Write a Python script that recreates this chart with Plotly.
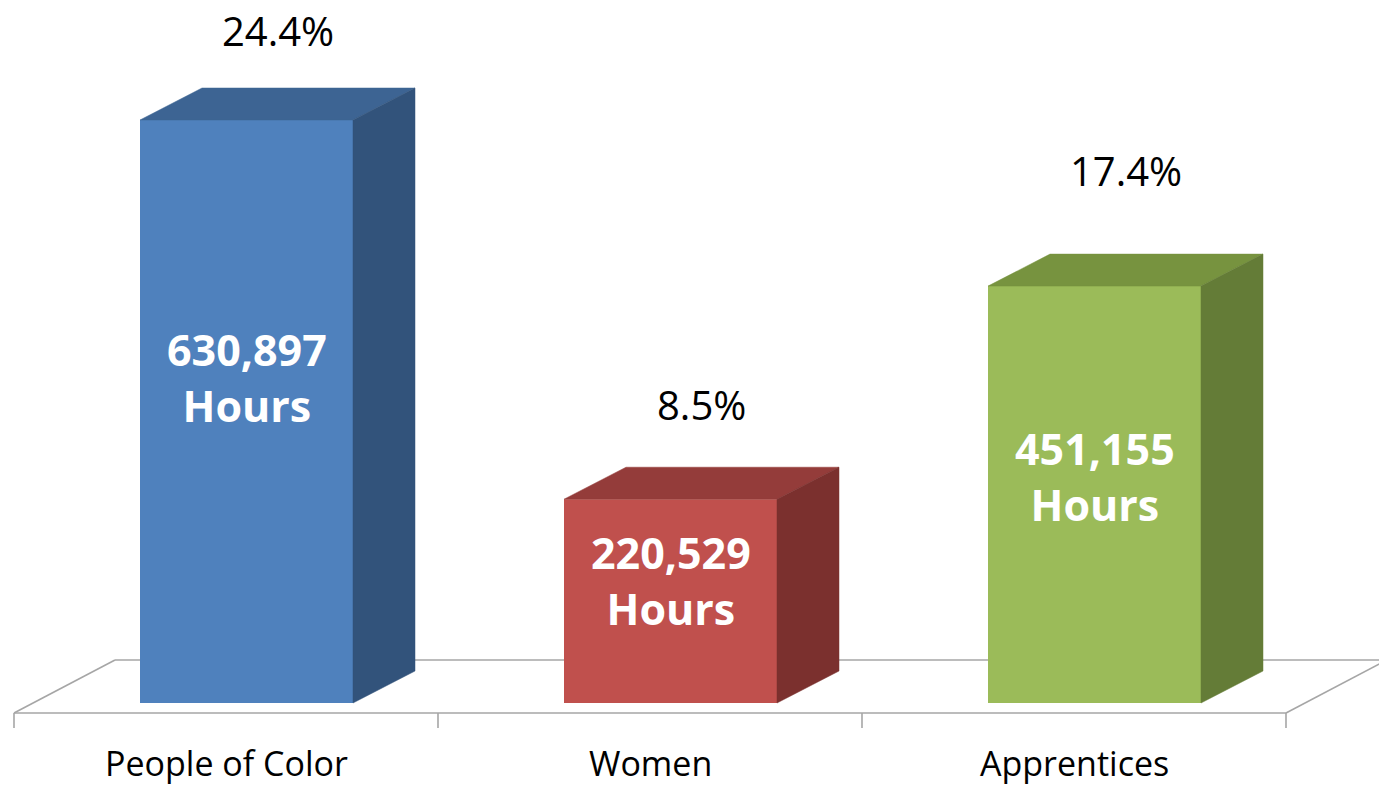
import plotly.graph_objects as go

# ---------------- data ----------------
categories = ["People of Color", "Women", "Apprentices"]
hours = [630897, 220529, 451155]
shares = ["24.4%", "8.5%", "17.4%"]
unit_label = "Hours"

# ---------------- styles ----------------
front_colors = ["#4F81BD", "#C0504D", "#9BBB59"]
top_colors = ["#3D6493", "#943C3A", "#77933F"]
side_colors = ["#32537B", "#7B302E", "#647C37"]
floor_color = "#A6A6A6"
FONT = "Open Sans"

# ---------------- layout geometry (pixels) ----------------
W, H = 1379, 788
SLOT_PX = 424.0      # width of one category slot
LEFT_PX = 14.0       # pixel of the first slot's left boundary
BASE_PX = 703.0      # pixel row of the bars' front base
TOP_PX = 120.0       # pixel row of the tallest bar's front top
K = (BASE_PX - TOP_PX) / max(hours)  # pixels per hour


def dx(px):
    return px / SLOT_PX


def dy(px):
    return px / K


x_min = -0.5 - dx(LEFT_PX)
x_max = x_min + dx(W)
y_min = -dy(H - BASE_PX)
y_max = dy(BASE_PX)

BAR_OFF = dx(-86)
BAR_W = dx(213)
DEPTH_X = dx(62)
DEPTH_Y = dy(32)
FLOOR_FRONT = dy(-10)
FLOOR_BACK = dy(43)
FLOOR_DX = dx(101)
TICK_LEN = dy(15)
CAT_LABEL_PX = 763

pct_gap_px = [58, 63, 84]        # gap from bar top-back edge to % label centre
block_off_px = [-34, -21, -18]   # inner label block centre vs front-face centre

xs_idx = list(range(len(categories)))

fig = go.Figure()

# front faces
fig.add_trace(go.Bar(
    x=xs_idx, y=hours, width=BAR_W, offset=BAR_OFF,
    marker=dict(color=front_colors, line=dict(width=0)),
    hoverinfo="skip",
))

# top and side faces
for i, h in enumerate(hours):
    x0 = i + BAR_OFF
    x1 = x0 + BAR_W
    fig.add_trace(go.Scatter(
        x=[x0, x1, x1 + DEPTH_X, x0 + DEPTH_X, x0],
        y=[h, h, h + DEPTH_Y, h + DEPTH_Y, h],
        mode="lines", fill="toself", fillcolor=top_colors[i],
        line=dict(width=0.5, color=top_colors[i]), hoverinfo="skip",
    ))
    fig.add_trace(go.Scatter(
        x=[x1, x1 + DEPTH_X, x1 + DEPTH_X, x1, x1],
        y=[0, DEPTH_Y, h + DEPTH_Y, h, 0],
        mode="lines", fill="toself", fillcolor=side_colors[i],
        line=dict(width=0.5, color=side_colors[i]), hoverinfo="skip",
    ))

# floor
n = len(categories)
left_b, right_b = -0.5, n - 0.5
shapes = []
seg = [
    (left_b, FLOOR_FRONT, right_b, FLOOR_FRONT),
    (left_b, FLOOR_FRONT, left_b + FLOOR_DX, FLOOR_BACK),
    (left_b + FLOOR_DX, FLOOR_BACK, right_b + FLOOR_DX, FLOOR_BACK),
    (right_b, FLOOR_FRONT, right_b + FLOOR_DX, FLOOR_BACK),
]
for b in range(n + 1):
    xb = left_b + b
    seg.append((xb, FLOOR_FRONT, xb, FLOOR_FRONT - TICK_LEN))
for (a, b_, c, d) in seg:
    shapes.append(dict(type="line", xref="x", yref="y", x0=a, y0=b_, x1=c, y1=d,
                       line=dict(color=floor_color, width=1.6), layer="below"))

annotations = []
for i, (cat, h, s) in enumerate(zip(categories, hours, shares)):
    fc = i + BAR_OFF + BAR_W / 2
    annotations.append(dict(
        x=i, y=dy(BASE_PX - CAT_LABEL_PX), text=cat, showarrow=False,
        xanchor="center", yanchor="middle",
        font=dict(family=FONT, size=34, color="#000000")))
    annotations.append(dict(
        x=fc + DEPTH_X / 2, y=h + DEPTH_Y + dy(pct_gap_px[i]), text=s,
        showarrow=False, xanchor="center", yanchor="middle",
        font=dict(family=FONT, size=40, color="#000000")))
    annotations.append(dict(
        x=fc, y=h / 2 + dy(-block_off_px[i]),
        text=f"<b>{h:,}</b><br><b>{unit_label}</b>",
        showarrow=False, xanchor="center", yanchor="middle", align="center",
        font=dict(family=FONT, size=43, color="#FFFFFF")))

fig.update_layout(
    width=W, height=H,
    margin=dict(l=0, r=0, t=0, b=0),
    paper_bgcolor="white", plot_bgcolor="white",
    showlegend=False,
    shapes=shapes, annotations=annotations,
    xaxis=dict(range=[x_min, x_max], visible=False, fixedrange=True),
    yaxis=dict(range=[y_min, y_max], visible=False, fixedrange=True),
)

fig.write_html("out.html", config={"displayModeBar": False},
               post_script="document.body.style.margin='0';")
